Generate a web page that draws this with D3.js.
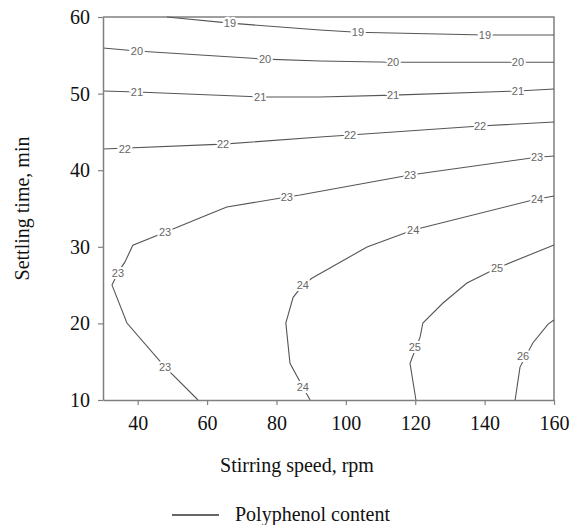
<!DOCTYPE html>
<html>
<head>
<meta charset="utf-8">
<script src="https://cdn.jsdelivr.net/npm/d3@7"></script>
<style>
  body { margin: 0; background: #fff; }
  svg { display: block; }
</style>
</head>
<body>
<svg id="chart" width="580" height="525"></svg>
<script>
// stirring speed (rpm) / settling time (min) points along each contour
const c19 = [[48.4, 60], [66.6, 59.2], [92.5, 58.3], [103.2, 58.0], [140.1, 57.65], [160, 57.65]]
const c20 = [[30, 55.95], [39.8, 55.56], [76.7, 54.5], [92.6, 54.26], [113.6, 54.1], [149.6, 54.1], [160, 54.1]]
const c21 = [[30, 50.34], [39.8, 50.2], [75.3, 49.56], [92.6, 49.56], [113.6, 49.8], [149.6, 50.34], [160, 50.6]]
const c22 = [[30, 42.77], [64.6, 43.4], [92.6, 44.33], [101.2, 44.6], [138.7, 45.77], [160, 46.3]]
const c23 = [[160, 41.85], [155.1, 41.7], [118.5, 39.37], [86.8, 36.76], [83.0, 36.5], [65.7, 35.2], [60.0, 34.15],
  [47.9, 31.9], [38.6, 30.2], [36.3, 28.0], [34.3, 26.6], [32.6, 25.0], [36.9, 20.05], [47.9, 14.3], [57.4, 10]]
const c24 = [[160, 36.63], [153.9, 36.1], [119.4, 32.2], [106.1, 29.97], [90.2, 25.9], [87.6, 25.0], [84.8, 23.4],
  [82.7, 20.05], [83.9, 14.8], [87.6, 11.7], [89.7, 10]]
const c25 = [[160, 30.24], [143.6, 27.23], [134.9, 25.27], [128.0, 22.66], [122.2, 20.05], [121.4, 18.2],
  [118.5, 14.8], [120.2, 10]]
const c26 = [[160, 20.44], [158.3, 19.9], [153.9, 17.44], [150.2, 14.3], [148.8, 10]]

const levels = [19, 20, 21, 22, 23, 24, 25, 26]
const contours = [c19, c20, c21, c22, c23, c24, c25, c26]

// [level, x, y] of the inline labels
const labels = [
  [19, 66.6, 59.2], [19, 103.5, 58.0], [19, 140.1, 57.65],
  [20, 39.8, 55.56], [20, 76.7, 54.5], [20, 113.6, 54.1], [20, 149.6, 54.1],
  [21, 39.8, 50.2], [21, 75.3, 49.56], [21, 113.6, 49.8], [21, 149.6, 50.34],
  [22, 36.3, 42.77], [22, 64.6, 43.4], [22, 101.2, 44.6], [22, 138.7, 45.77],
  [23, 155.1, 41.7], [23, 118.5, 39.37], [23, 83.0, 36.5], [23, 47.9, 31.9], [23, 34.3, 26.6], [23, 47.9, 14.3],
  [24, 155.1, 36.25], [24, 119.4, 32.2], [24, 87.6, 25.0], [24, 87.6, 11.7],
  [25, 143.6, 27.23], [25, 119.9, 16.9],
  [26, 151.1, 15.7]
]

const xTicks = [40, 60, 80, 100, 120, 140, 160]
const yTicks = [10, 20, 30, 40, 50, 60]

const svg = d3.select('#chart')
const plot = { left: 103, right: 554, top: 17, bottom: 400 }
const serif = '"Liberation Serif", "Times New Roman", serif'
const axisColor = '#808080'

const x = d3.scaleLinear().domain([30, 160]).range([plot.left, plot.right])
const y = d3.scaleLinear().domain([10, 60]).range([plot.bottom, plot.top])

// frame top + right
svg.append('path')
  .attr('d', `M${plot.left},${plot.top}H${plot.right}V${plot.bottom}`)
  .attr('fill', 'none')
  .attr('stroke', axisColor)
  .attr('stroke-width', 1.5)

const line = d3.line().x(d => x(d[0])).y(d => y(d[1]))

svg.append('g')
  .selectAll('path')
  .data(contours)
  .enter()
  .append('path')
  .attr('d', line)
  .attr('fill', 'none')
  .attr('stroke', '#555')
  .attr('stroke-width', 1.1)

svg.append('g')
  .selectAll('text')
  .data(labels)
  .enter()
  .append('text')
  .attr('x', d => x(d[1]))
  .attr('y', d => y(d[2]))
  .attr('dy', '0.35em')
  .attr('text-anchor', 'middle')
  .style('font-family', 'Arial, "Liberation Sans", sans-serif')
  .style('font-size', '11px')
  .attr('fill', '#666')
  .attr('stroke', '#fff')
  .attr('stroke-width', 4)
  .attr('paint-order', 'stroke')
  .text(d => d[0])

const xAxis = svg.append('g')
  .attr('transform', `translate(0,${plot.bottom})`)
  .call(d3.axisBottom(x).tickValues(xTicks).tickSize(5).tickSizeOuter(0).tickPadding(11))

const yAxis = svg.append('g')
  .attr('transform', `translate(${plot.left},0)`)
  .call(d3.axisLeft(y).tickValues(yTicks).tickSize(5).tickSizeOuter(0).tickPadding(8))

for (const g of [xAxis, yAxis]) {
  g.attr('font-family', null).attr('font-size', null)
  g.select('.domain').attr('stroke', axisColor).attr('stroke-width', 1.5)
  g.selectAll('.tick line').attr('stroke', axisColor).attr('stroke-width', 1.2)
  g.selectAll('.tick text')
    .attr('fill', '#111')
    .style('font-family', serif)
    .style('font-size', '20px')
}

svg.append('text')
  .attr('x', 297)
  .attr('y', 472)
  .attr('text-anchor', 'middle')
  .style('font-family', serif)
  .style('font-size', '20px')
  .attr('fill', '#111')
  .text('Stirring speed, rpm')

svg.append('text')
  .attr('transform', `translate(29,${(plot.top + plot.bottom) / 2}) rotate(-90)`)
  .attr('text-anchor', 'middle')
  .style('font-family', serif)
  .style('font-size', '20px')
  .attr('fill', '#111')
  .text('Settling time, min')

// legend
const legend = svg.append('g').attr('transform', 'translate(172,515)')
legend.append('line')
  .attr('x1', 0).attr('x2', 47)
  .attr('stroke', '#333')
  .attr('stroke-width', 1.3)
legend.append('text')
  .attr('x', 63)
  .attr('dy', '0.3em')
  .style('font-family', serif)
  .style('font-size', '20px')
  .attr('fill', '#111')
  .text('Polyphenol content')
</script>
</body>
</html>
